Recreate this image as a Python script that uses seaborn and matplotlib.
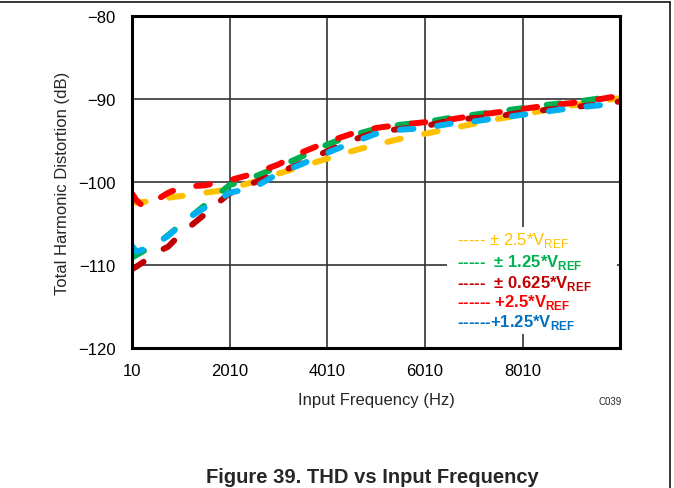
import matplotlib
matplotlib.use('Agg')
import matplotlib.pyplot as plt
from matplotlib.lines import Line2D
from matplotlib.patches import Rectangle
import seaborn as sns

# ### values
freq_hz = [10, 100, 250, 500, 750, 1000, 1250, 1500, 1750, 2000, 2500, 3000, 3500,
           4000, 4500, 5000, 5500, 6000, 6500, 7000, 7500, 8000, 8500, 9000, 9500, 10000]

thd_pm2p5 = [-102.4, -102.5, -102.4, -102.2, -101.9, -101.7, -101.5, -101.3, -101.1, -100.8,
             -100.0, -99.0, -98.1, -97.2, -96.3, -95.5, -94.8, -94.2, -93.6, -93.0,
             -92.4, -91.9, -91.3, -90.8, -90.3, -89.9]
thd_pm1p25 = [-109.1, -108.8, -108.3, -107.6, -106.4, -105.2, -104.0, -102.8, -101.6, -100.4,
              -99.4, -98.2, -96.9, -95.5, -94.4, -93.6, -93.1, -92.8, -92.3, -91.9,
              -91.5, -91.1, -90.7, -90.4, -90.0, -89.5]
thd_pm0p625 = [-110.5, -110.2, -109.6, -108.5, -107.8, -106.3, -105.1, -103.9, -102.6, -101.4,
               -100.1, -98.9, -97.7, -96.3, -95.0, -94.0, -93.6, -93.3, -92.6, -92.3,
               -92.1, -91.6, -91.3, -91.0, -90.7, -90.3]
thd_p2p5 = [-101.4, -102.2, -103.0, -102.2, -101.3, -100.7, -100.5, -100.4, -100.1, -99.8,
            -99.0, -97.9, -96.4, -95.2, -94.2, -93.5, -93.1, -92.8, -92.5, -92.0,
            -91.6, -91.2, -90.8, -90.5, -90.1, -89.6]
thd_p1p25 = [-107.7, -108.4, -108.1, -107.4, -106.5, -105.2, -104.0, -103.1, -102.4, -101.3,
             -100.7, -99.0, -97.8, -96.5, -95.3, -94.2, -93.7, -93.5, -93.0, -92.7,
             -92.3, -91.9, -91.5, -91.1, -90.8, -90.5]

series = [thd_pm2p5, thd_pm1p25, thd_pm0p625, thd_p2p5, thd_p1p25]
line_colors = ['#FFC000', '#00B050', '#C00000', '#FF0000', '#00B0F0']
text_colors = ['#FFC000', '#00B050', '#C00000', '#FF0000', '#0070C0']
legend_labels = [r'----- ± 2.5*V$_\mathrm{REF}$',
                 r'-----  ± 1.25*V$_\mathbf{REF}$',
                 r'-----  ± 0.625*V$_\mathbf{REF}$',
                 r'------ +2.5*V$_\mathbf{REF}$',
                 r'------+1.25*V$_\mathbf{REF}$']
legend_bold = [False, True, True, True, True]

x_ticks = [10, 2010, 4010, 6010, 8010]
y_ticks = [-120, -110, -100, -90, -80]

sns.set_style('white')
plt.rcParams['font.family'] = ['Liberation Sans', 'DejaVu Sans']
plt.rcParams['mathtext.fontset'] = 'custom'
plt.rcParams['mathtext.rm'] = 'Liberation Sans'
plt.rcParams['mathtext.bf'] = 'Liberation Sans:bold'

fig = plt.figure(figsize=(6.74, 4.89), dpi=100)
ax = fig.add_axes([132/674, 1 - 349/489, 488/674, 332/489])

for vals, col in zip(series, line_colors):
    sns.lineplot(x=freq_hz, y=vals, ax=ax, color=col, lw=4.3,
                 linestyle=(0, (2.3, 4.0)), dash_capstyle='round', legend=False)

ax.set_xlim(10, 10000)
ax.set_ylim(-120, -80)
ax.set_xticks(x_ticks)
ax.set_yticks(y_ticks)
ax.set_xticklabels([str(t) for t in x_ticks])
ax.set_yticklabels([f'\u2212{abs(t)}' for t in y_ticks])
ax.tick_params(length=0, labelsize=12, colors='black')
ax.tick_params(axis='y', pad=12)
ax.tick_params(axis='x', pad=11)
ax.grid(True, color='#333333', lw=1.2)
ax.set_axisbelow(True)
for sp in ax.spines.values():
    sp.set_color('black')
    sp.set_linewidth(2.2)
    sp.set_zorder(5)

ax.set_xlabel('Input Frequency (Hz)', fontsize=12)
ax.set_ylabel('Total Harmonic Distortion (dB)', fontsize=12)
ax.xaxis.set_label_coords(0.5, -0.132)
ax.yaxis.set_label_coords(-0.127, 0.5)

# white box behind the text legend
ax.add_patch(Rectangle((0.645, 0.042), 0.349, 0.322, transform=ax.transAxes,
                       facecolor='white', edgecolor='none', zorder=3))
leg_y = [241, 263, 284, 303, 323]
for lab, col, yy, bold in zip(legend_labels, text_colors, leg_y, legend_bold):
    ax.text((457 - 132) / 488, (349 - yy) / 332, lab, transform=ax.transAxes,
            color=col, fontsize=12, fontweight='bold' if bold else 'normal',
            ha='left', va='center', zorder=4)

fig.text(610/674, 1 - 402/489, 'C039', fontsize=7, ha='center', va='center')
fig.text(372/674, 1 - 478/489, 'Figure 39. THD vs Input Frequency', fontsize=14.5,
         fontweight='bold', ha='center', va='center')

# page frame (top and right)
fig.add_artist(Line2D([0, 670/674], [1 - 3/489, 1 - 3/489], color='black', lw=1.1,
                      transform=fig.transFigure))
fig.add_artist(Line2D([670/674, 670/674], [0, 1 - 3/489], color='black', lw=1.1,
                      transform=fig.transFigure))

fig.savefig('out.png', dpi=100)
